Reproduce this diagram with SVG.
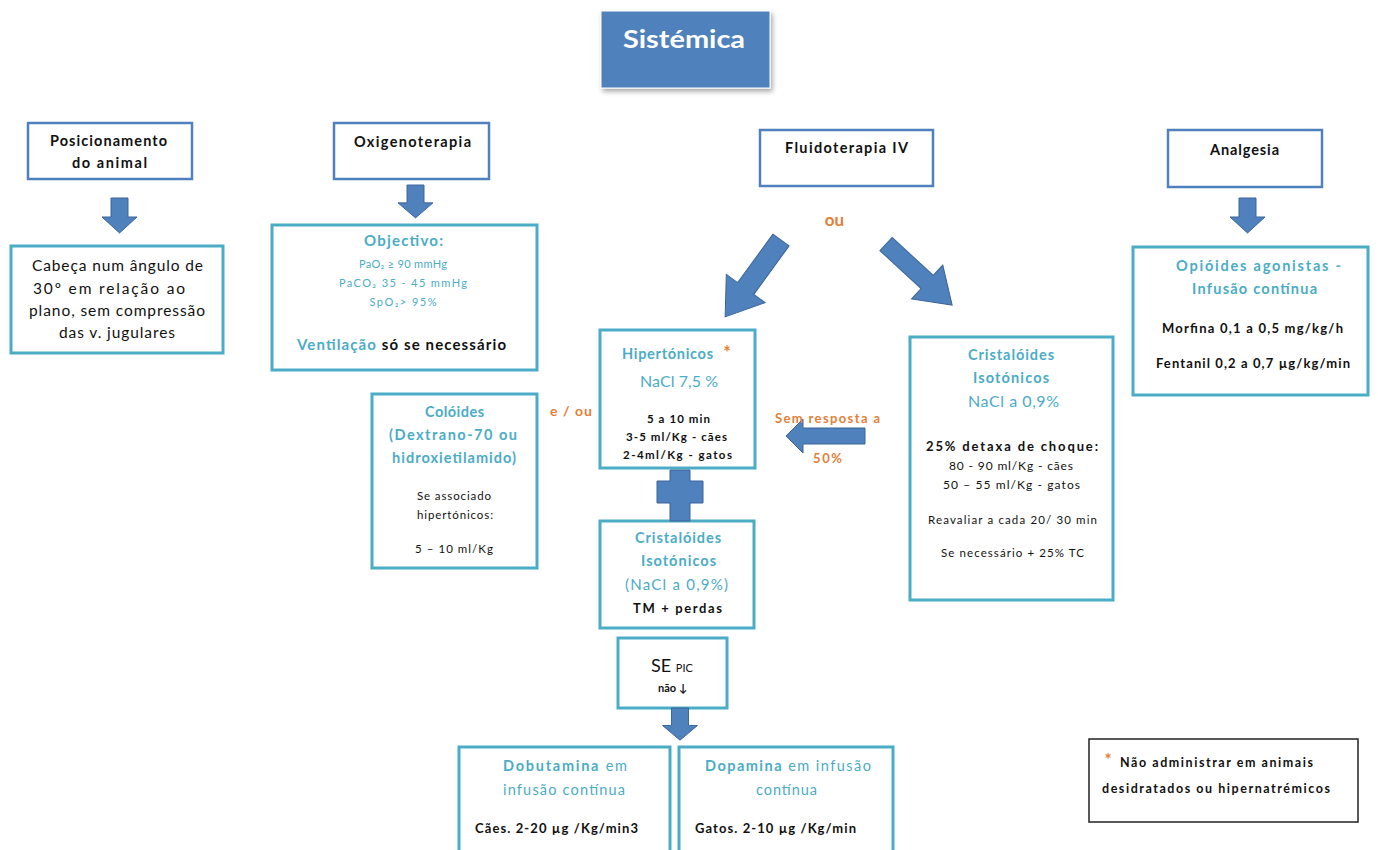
<svg xmlns="http://www.w3.org/2000/svg" width="1378" height="850" viewBox="0 0 1378 850">
<defs>
<filter id="sh" x="-10%" y="-10%" width="130%" height="140%"><feDropShadow dx="2" dy="3" stdDeviation="2.5" flood-color="#000" flood-opacity="0.35"/></filter>
<path id="down" d="M-8.5,0 H8.5 V19 H17.5 L0,35 L-17.5,19 H-8.5 Z"/>
</defs>
<style>
text{font-family:Lato,"Liberation Sans",sans-serif;fill:#111;}
.c{text-anchor:middle;}
.b{font-weight:bold;}
.t{fill:#4BACC6;}
.o{fill:#E2803A;font-weight:bold;}
.w{fill:#fff;font-weight:bold;}
.bb{fill:#fff;stroke:#4F81BD;stroke-width:2.5;}
.tb{fill:#fff;stroke:#4BACC6;stroke-width:3;}
.nb{fill:#fff;stroke:#222;stroke-width:1.5;}
.ar{fill:#4F81BD;stroke:#3A659A;stroke-width:1;}
</style>

<g id="title">
<rect x="601" y="11" width="169" height="77" fill="#4F81BD" stroke="#fff" stroke-width="1" filter="url(#sh)"/>
<text class="c w" x="684" y="48" font-size="24" textLength="122" lengthAdjust="spacingAndGlyphs">Sistémica</text>
</g>

<g id="posicionamento">
<rect class="bb" x="28" y="123" width="164" height="56"/>
<text class="c b" x="108.5" y="146" font-size="14.5" textLength="117">Posicionamento</text>
<text class="c b" x="109.5" y="168" font-size="14.5" textLength="75">do animal</text>
</g>

<g id="cabeca">
<rect class="tb" x="11" y="246" width="212" height="107"/>
<text class="c" x="117.5" y="271" font-size="15.5" textLength="171">Cabeça num ângulo de</text>
<text class="c" x="109" y="294" font-size="15.5" textLength="152">30º em relação ao</text>
<text class="c" x="117" y="316" font-size="15.5" textLength="176">plano, sem compressão</text>
<text class="c" x="117" y="338" font-size="15.5" textLength="116">das v. jugulares</text>
</g>

<g id="oxigenoterapia">
<rect class="bb" x="334" y="123" width="155" height="56"/>
<text class="c b" x="412.5" y="147" font-size="14.5" textLength="117">Oxigenoterapia</text>
</g>

<g id="objectivo">
<rect class="tb" x="272" y="225" width="265" height="145"/>
<text class="c b t" x="403.5" y="246" font-size="15" textLength="79">Objectivo:</text>
<text class="c t" x="403" y="268" font-size="11" textLength="88">PaO₂ ≥ 90 mmHg</text>
<text class="c t" x="403" y="287" font-size="11" textLength="128">PaCO₂ 35 - 45 mmHg</text>
<text class="c t" x="403" y="306" font-size="11" textLength="67">SpO₂&gt; 95%</text>
<text class="c b" x="401.5" y="350" font-size="15" textLength="209"><tspan class="t">Ventilação</tspan> só se necessário</text>
</g>

<g id="coloides">
<rect class="tb" x="372" y="394" width="165" height="174"/>
<text class="c b t" x="454.5" y="417" font-size="14.5" textLength="59">Colóides</text>
<text class="c b t" x="453" y="440" font-size="14.5" textLength="128">(Dextrano-70 ou</text>
<text class="c b t" x="454" y="463" font-size="14.5" textLength="124">hidroxietilamido)</text>
<text class="c" x="454" y="500" font-size="11.5" textLength="74">Se associado</text>
<text class="c" x="455" y="519" font-size="11.5" textLength="76">hipertónicos:</text>
<text class="c" x="454" y="553" font-size="11.5" textLength="78">5 – 10 ml/Kg</text>
</g>

<g id="fluidoterapia">
<rect class="bb" x="760" y="130" width="173" height="56"/>
<text class="c b" x="846.5" y="153" font-size="14.5" textLength="123">Fluidoterapia  IV</text>
</g>

<g id="hipertonicos">
<rect class="tb" x="600" y="330" width="155" height="138"/>
<text class="c b t" x="667.5" y="359" font-size="14.5" textLength="91">Hipertónicos</text>
<text class="c o" x="727" y="359" font-size="18">*</text>
<text class="c t" x="679" y="387" font-size="16" textLength="78">NaCl 7,5 %</text>
<text class="c b" x="678.5" y="423" font-size="11.5" textLength="63">5 a 10 min</text>
<text class="c b" x="676.5" y="441" font-size="11.5" textLength="101">3-5  ml/Kg -  cães</text>
<text class="c b" x="677.5" y="459" font-size="11.5" textLength="109">2-4ml/Kg  -   gatos</text>
</g>

<g id="cristaloides-direita">
<rect class="tb" x="910" y="337" width="203" height="263"/>
<text class="c b t" x="1011" y="360" font-size="14.5" textLength="86">Cristalóides</text>
<text class="c b t" x="1011" y="383" font-size="14.5" textLength="76">Isotónicos</text>
<text class="c t" x="1013.5" y="407" font-size="16" textLength="91">NaCl a 0,9%</text>
<text class="c b" x="1012" y="451" font-size="13" textLength="172">25% detaxa de choque:</text>
<text class="c" x="1011" y="470" font-size="12" textLength="124">80 - 90 ml/Kg - cães</text>
<text class="c" x="1011.5" y="489" font-size="12" textLength="137">50 – 55 ml/Kg -   gatos</text>
<text class="c" x="1012.5" y="524" font-size="11.5" textLength="169">Reavaliar a cada 20/ 30 min</text>
<text class="c" x="1012.5" y="557" font-size="11.5" textLength="143">Se necessário + 25% TC</text>
</g>

<g id="cristaloides-centro">
<rect class="tb" x="600" y="521" width="154" height="107"/>
<text class="c b t" x="678" y="543" font-size="14.5" textLength="86">Cristalóides</text>
<text class="c b t" x="678.5" y="566" font-size="14.5" textLength="75">Isotónicos</text>
<text class="c t" x="676.5" y="590" font-size="15" textLength="103">(NaCl a 0,9%)</text>
<text class="c b" x="677.5" y="613" font-size="13" textLength="89">TM + perdas</text>
</g>

<g id="se-pic">
<rect class="tb" x="618" y="638" width="109" height="70"/>
<text class="c" x="672" y="672" font-size="18">SE <tspan font-size="11">PIC</tspan></text>
<text class="c b" x="672.5" y="692" font-size="11">não ↓</text>
</g>

<g id="dobutamina">
<rect class="tb" x="459" y="747" width="211" height="110"/>
<text class="c t" x="565" y="771" font-size="14.5" textLength="124"><tspan font-weight="bold">Dobutamina</tspan>  em</text>
<text class="c t" x="564" y="795" font-size="14.5" textLength="122">infusão  contínua</text>
<text class="b" x="475" y="833" font-size="13" textLength="163">Cães. 2-20 µg /Kg/min3</text>
</g>

<g id="dopamina">
<rect class="tb" x="679" y="747" width="214" height="110"/>
<text class="c t" x="788" y="771" font-size="14.5" textLength="166"><tspan font-weight="bold">Dopamina</tspan>  em infusão</text>
<text class="c t" x="786.5" y="795" font-size="14.5" textLength="61">contínua</text>
<text class="b" x="695" y="833" font-size="13" textLength="161">Gatos. 2-10 µg /Kg/min</text>
</g>

<g id="analgesia">
<rect class="bb" x="1168" y="130" width="154" height="57"/>
<text class="c b" x="1244.5" y="155" font-size="14.5" textLength="69">Analgesia</text>
</g>

<g id="opioides">
<rect class="tb" x="1133" y="247" width="235" height="148"/>
<text class="c b t" x="1258.5" y="271" font-size="14.5" textLength="165">Opióides  agonistas -</text>
<text class="c b t" x="1254.5" y="294" font-size="14.5" textLength="125">Infusão  contínua</text>
<text class="c b" x="1252.5" y="333" font-size="13" textLength="181">Morfina 0,1 a 0,5 mg/kg/h</text>
<text class="c b" x="1253" y="368" font-size="13" textLength="194">Fentanil 0,2 a 0,7 µg/kg/min</text>
</g>

<g id="nota">
<rect class="nb" x="1089" y="739" width="269" height="83"/>
<text class="c o" x="1108" y="766" font-size="17">*</text>
<text class="b" x="1120" y="767" font-size="12.5" textLength="193">Não administrar  em animais</text>
<text class="b" x="1102" y="793" font-size="12.5" textLength="228">desidratados ou hipernatrémicos</text>
</g>

<g id="connectors">
<use href="#down" class="ar" x="119.5" y="198"/>
<use href="#down" class="ar" transform="translate(415.5,185) scale(1,0.94)"/>
<use href="#down" class="ar" x="1247.5" y="198"/>
<use href="#down" class="ar" transform="translate(680,708) scale(1,0.92)"/>
<path class="ar" transform="translate(781,240) rotate(126)" d="M0,-10 H60 V-24 L95,0 L60,24 V10 H0 Z"/>
<path class="ar" transform="translate(886,244) rotate(42.7)" d="M0,-9 H56 V-23 L90,0 L56,23 V9 H0 Z"/>
<path class="ar" d="M786,436 L803,419 V428 H865 V444 H803 V453 Z"/>
<path class="ar" d="M670,470 H690 V481 H703 V503 H690 V521 H670 V503 H657 V481 H670 Z"/>
<text class="c o" x="834.5" y="226" font-size="17">ou</text>
<text class="c o" x="571" y="416" font-size="14" textLength="42">e / ou</text>
<text class="c o" x="827.5" y="423" font-size="13" textLength="105">Sem resposta a</text>
<text class="c o" x="827.5" y="463" font-size="13" textLength="29">50%</text>
</g>
</svg>
